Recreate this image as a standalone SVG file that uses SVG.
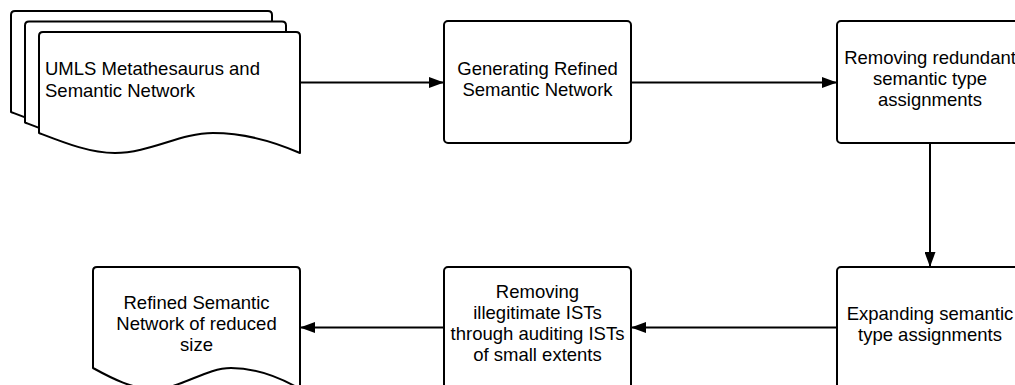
<svg xmlns="http://www.w3.org/2000/svg" width="1015" height="385" viewBox="0 0 1015 385">
<style>
.shape{fill:#fff;stroke:#000;stroke-width:2;stroke-linejoin:round}
.edge{fill:none;stroke:#000;stroke-width:2}
text{font-family:"Liberation Sans",Arial,sans-serif;font-size:18.5px;fill:#000}
.c{text-anchor:middle}
</style>
<defs>
<marker id="ah" viewBox="0 0 15 11" refX="15" refY="5.5" markerWidth="15" markerHeight="11" markerUnits="userSpaceOnUse" orient="auto">
<path d="M0,0 L15,5.5 L0,11 Z" fill="#000"/>
</marker>
<path id="doc" d="M0,4 Q0,0 4,0 L257,0 Q261,0 261,4 L261,121 C236,110 206,101 174,101 C141,101 111,121 76,121 C51,121 26,111 0,101 Z"/>
</defs>
<g id="node-umls">
<use href="#doc" class="shape" x="11" y="11"/>
<use href="#doc" class="shape" x="25" y="21.5"/>
<use href="#doc" class="shape" x="39" y="32"/>
<text x="45" y="74.5">UMLS Metathesaurus and</text>
<text x="45" y="96.5">Semantic Network</text>
</g>
<g id="node-generating">
<rect class="shape" x="444" y="21" width="187" height="122" rx="4"/>
<text class="c" x="537.5" y="74.5">Generating Refined</text>
<text class="c" x="537.5" y="95.5">Semantic Network</text>
</g>
<g id="node-removing-redundant">
<rect class="shape" x="837" y="21" width="186" height="122" rx="4"/>
<text class="c" x="930" y="63.5">Removing redundant</text>
<text class="c" x="930" y="84.5">semantic type</text>
<text class="c" x="930" y="105.5">assignments</text>
</g>
<g id="node-expanding">
<rect class="shape" x="837" y="267" width="186" height="122" rx="4"/>
<text class="c" x="930" y="320">Expanding semantic</text>
<text class="c" x="930" y="341">type assignments</text>
</g>
<g id="node-removing-illegitimate">
<rect class="shape" x="444" y="267" width="187" height="122" rx="4"/>
<text class="c" x="537.5" y="297.5">Removing</text>
<text class="c" x="537.5" y="318.5">illegitimate ISTs</text>
<text class="c" x="537.5" y="339.5">through auditing ISTs</text>
<text class="c" x="537.5" y="360.5">of small extents</text>
</g>
<g id="node-refined">
<path class="shape" d="M93,271 Q93,267 97,267 L296,267 Q300,267 300,271 L300,389 C281,378 257,368 231,368 C205,368 181,389 153,389 C133,389 113,379 93,368 Z"/>
<text class="c" x="196.5" y="308.5">Refined Semantic</text>
<text class="c" x="196.5" y="329.5">Network of reduced</text>
<text class="c" x="196.5" y="350.5">size</text>
</g>
<g id="connectors">
<path class="edge" d="M300,82.5 L444,82.5" marker-end="url(#ah)"/>
<path class="edge" d="M631,82.5 L837,82.5" marker-end="url(#ah)"/>
<path class="edge" d="M930,143 L930,267" marker-end="url(#ah)"/>
<path class="edge" d="M837,327.5 L631,327.5" marker-end="url(#ah)"/>
<path class="edge" d="M444,327.5 L300,327.5" marker-end="url(#ah)"/>
</g>
</svg>
